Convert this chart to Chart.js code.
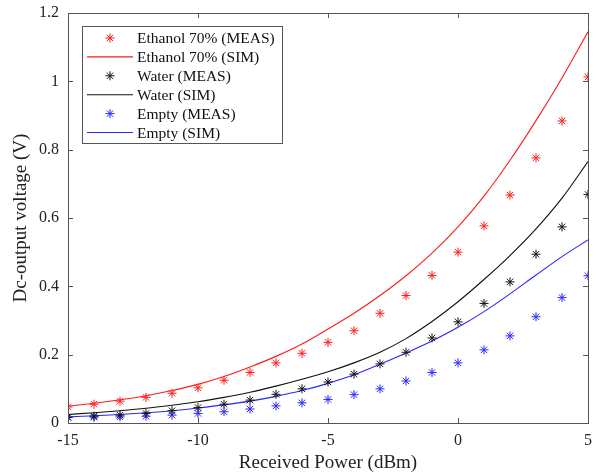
<!DOCTYPE html>
<html>
<head>
<meta charset="utf-8">
<script src="https://cdn.jsdelivr.net/npm/chart.js@4/dist/chart.umd.min.js"></script>
<style>
  html, body { margin: 0; padding: 0; background: #ffffff; }
  #wrap { width: 596px; height: 474px; }
</style>
</head>
<body>
<div id="wrap"><canvas id="c" width="596" height="474"></canvas></div>
<script>
// ---- data ----
const receivedPower = [-15, -14, -13, -12, -11, -10, -9, -8, -7, -6, -5, -4, -3, -2, -1, 0, 1, 2, 3, 4, 5];

const ethanolMeas = [0.047, 0.055, 0.064, 0.075, 0.087, 0.103, 0.125, 0.148, 0.176, 0.204, 0.236, 0.270, 0.321, 0.373, 0.432, 0.500, 0.577, 0.667, 0.776, 0.884, 1.013];
const ethanolSim  = [0.049, 0.058, 0.068, 0.080, 0.095, 0.113, 0.136, 0.164, 0.195, 0.231, 0.275, 0.321, 0.373, 0.431, 0.497, 0.574, 0.664, 0.769, 0.885, 1.010, 1.145];

const waterMeas = [0.017, 0.020, 0.023, 0.028, 0.036, 0.045, 0.055, 0.067, 0.084, 0.100, 0.120, 0.143, 0.173, 0.207, 0.249, 0.296, 0.350, 0.413, 0.494, 0.574, 0.669];
const waterSim  = [0.025, 0.030, 0.036, 0.043, 0.052, 0.062, 0.075, 0.090, 0.108, 0.128, 0.150, 0.176, 0.207, 0.247, 0.297, 0.355, 0.420, 0.490, 0.568, 0.658, 0.765];

const emptyMeas = [0.016, 0.017, 0.018, 0.020, 0.023, 0.028, 0.033, 0.041, 0.050, 0.059, 0.069, 0.083, 0.100, 0.123, 0.148, 0.176, 0.214, 0.255, 0.311, 0.367, 0.431];
const emptySim  = [0.018, 0.021, 0.025, 0.030, 0.036, 0.044, 0.053, 0.064, 0.078, 0.095, 0.116, 0.141, 0.172, 0.205, 0.240, 0.280, 0.326, 0.378, 0.433, 0.487, 0.536];

const seriesLabels = ["Ethanol 70% (MEAS)", "Ethanol 70% (SIM)", "Water (MEAS)", "Water (SIM)", "Empty (MEAS)", "Empty (SIM)"];
const xTicks = [-15, -10, -5, 0, 5];
const yTicks = [0, 0.2, 0.4, 0.6, 0.8, 1, 1.2];

// ---- build chart ----
const toXY = arr => receivedPower.map((x, i) => ({ x: x, y: arr[i] }));
const RED = '#ff1a1a', BLACK = '#111111', BLUE = '#2626ff';
const FONT = '"Liberation Serif", "Times New Roman", serif';

function measSet(label, arr, color) {
  return { label, data: toXY(arr), showLine: false, pointStyle: 'star',
           pointRadius: 4.5, pointHoverRadius: 4.5, borderColor: color, backgroundColor: color,
           pointBorderWidth: 1, borderWidth: 1 };
}
function simSet(label, arr, color) {
  return { label, data: toXY(arr), showLine: true, pointRadius: 0, borderColor: color,
           backgroundColor: color, borderWidth: 1.1, cubicInterpolationMode: 'monotone', fill: false };
}

const datasets = [
  measSet(seriesLabels[0], ethanolMeas, RED),
  simSet(seriesLabels[1], ethanolSim, RED),
  measSet(seriesLabels[2], waterMeas, BLACK),
  simSet(seriesLabels[3], waterSim, BLACK),
  measSet(seriesLabels[4], emptyMeas, BLUE),
  simSet(seriesLabels[5], emptySim, BLUE)
];

function drawStar(ctx, x, y, r, color) {
  ctx.save();
  ctx.strokeStyle = color; ctx.lineWidth = 1;
  ctx.beginPath();
  ctx.moveTo(x - r, y); ctx.lineTo(x + r, y);
  ctx.moveTo(x, y - r); ctx.lineTo(x, y + r);
  const d = r * Math.SQRT1_2;
  ctx.moveTo(x - d, y - d); ctx.lineTo(x + d, y + d);
  ctx.moveTo(x - d, y + d); ctx.lineTo(x + d, y - d);
  ctx.stroke();
  ctx.restore();
}

const boxPlugin = {
  id: 'matlabBox',
  afterDatasetsDraw(chart) {
    const { ctx, chartArea: a, scales } = chart;
    ctx.save();
    ctx.strokeStyle = '#555555';
    ctx.lineWidth = 1;
    ctx.strokeRect(Math.round(a.left) + 0.5, Math.round(a.top) + 0.5,
                   Math.round(a.right - a.left), Math.round(a.bottom - a.top));
    const tl = 5;
    ctx.beginPath();
    scales.x.ticks.forEach(t => {
      const px = Math.round(scales.x.getPixelForValue(t.value)) + 0.5;
      ctx.moveTo(px, a.bottom); ctx.lineTo(px, a.bottom - tl);
      ctx.moveTo(px, a.top); ctx.lineTo(px, a.top + tl);
    });
    scales.y.ticks.forEach(t => {
      const py = Math.round(scales.y.getPixelForValue(t.value)) + 0.5;
      ctx.moveTo(a.left, py); ctx.lineTo(a.left + tl, py);
      ctx.moveTo(a.right, py); ctx.lineTo(a.right - tl, py);
    });
    ctx.stroke();

    // legend box inside the axes
    const lx = 82, ly = 26, lw = 200, lh = 117;
    ctx.fillStyle = '#ffffff';
    ctx.fillRect(lx, ly, lw, lh);
    ctx.strokeStyle = '#555555';
    ctx.strokeRect(lx + 0.5, ly + 0.5, lw, lh);
    ctx.font = '15.5px ' + FONT;
    ctx.textBaseline = 'middle';
    ctx.textAlign = 'left';
    chart.data.datasets.forEach((ds, i) => {
      const cy = 38 + i * 18.9;
      if (ds.showLine) {
        ctx.strokeStyle = ds.borderColor; ctx.lineWidth = 1.1;
        ctx.beginPath(); ctx.moveTo(87, cy); ctx.lineTo(133, cy); ctx.stroke();
      } else {
        drawStar(ctx, 110, cy, 4.5, ds.borderColor);
      }
      ctx.fillStyle = '#111111';
      ctx.fillText(ds.label, 137, cy + 1);
    });
    ctx.restore();
  }
};

new Chart(document.getElementById('c'), {
  type: 'scatter',
  data: { datasets },
  plugins: [boxPlugin],
  options: {
    responsive: false,
    animation: false,
    devicePixelRatio: 1,
    layout: { padding: { left: 0, top: 13, right: 8, bottom: 0 } },
    plugins: { legend: { display: false }, tooltip: { enabled: false } },
    scales: {
      x: {
        type: 'linear', min: -15, max: 5,
        afterBuildTicks: s => { s.ticks = xTicks.map(v => ({ value: v })); },
        afterFit: s => { s.height = 51; s.paddingLeft = 0; s.paddingRight = 0; },
        grid: { display: false, drawTicks: false },
        border: { display: false },
        ticks: { color: '#222222', font: { family: FONT, size: 16 }, padding: 8, maxRotation: 0,
                 callback: v => String(v) },
        title: { display: true, text: 'Received Power (dBm)', color: '#222222',
                 font: { family: FONT, size: 19 }, padding: { top: 0, bottom: 0 } }
      },
      y: {
        type: 'linear', min: 0, max: 1.2,
        afterBuildTicks: s => { s.ticks = yTicks.map(v => ({ value: v })); },
        afterFit: s => { s.width = 68; s.paddingTop = 0; s.paddingBottom = 0; },
        grid: { display: false, drawTicks: false },
        border: { display: false },
        ticks: { color: '#222222', font: { family: FONT, size: 16 }, padding: 9,
                 callback: v => String(Math.round(v * 10) / 10) },
        title: { display: true, text: 'Dc-output voltage (V)', color: '#222222',
                 font: { family: FONT, size: 19 }, padding: { top: 10, bottom: 4 } }
      }
    }
  }
});
</script>
</body>
</html>
